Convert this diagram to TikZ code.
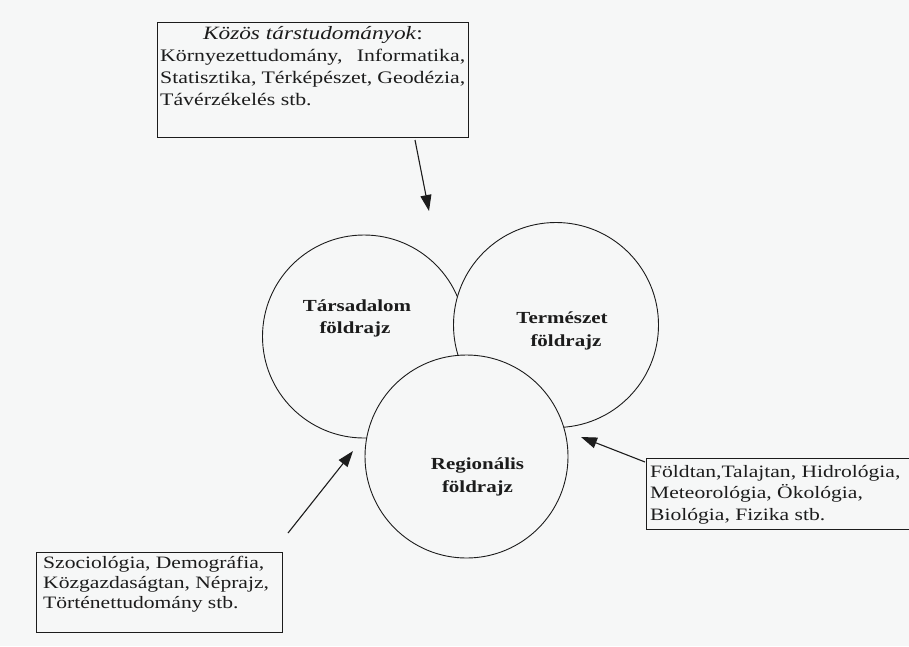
\documentclass[tikz,border=0pt]{standalone}
\usepackage{fontspec}
\setmainfont{Liberation Serif}[FakeStretch=1.24]
\usetikzlibrary{arrows.meta}
\definecolor{paper}{RGB}{246,247,247}
\definecolor{ink}{RGB}{28,28,28}
\begin{document}
\begin{tikzpicture}[x=1pt,y=-1pt,
  ring/.style={circle, draw=ink, line width=0.9pt, fill=paper, minimum size=203pt, inner sep=0pt},
  frame/.style={draw=ink, line width=1pt, fill=paper, inner sep=0pt, anchor=north west},
  ln/.style={anchor=base west, inner sep=0pt, text=ink, font=\fontsize{17.4}{20}\selectfont},
  lnt/.style={anchor=base west, inner sep=0pt, text=ink, font=\fontsize{17.6}{21}\selectfont},
  lnc/.style={anchor=base, inner sep=0pt, text=ink, font=\fontsize{16.9}{20}\selectfont\bfseries},
  arr/.style={-{Triangle[length=16pt,width=11pt]}, line width=1.1pt, draw=ink}]
\useasboundingbox[fill=paper] (0,0) rectangle (909,646);

% boxes
\node[frame, minimum width=311pt, minimum height=115pt] (topbox) at (157,22) {};
\node[frame, minimum width=275pt, minimum height=71pt] (rbox) at (646,458) {};
\node[frame, minimum width=246pt, minimum height=80.5pt] (lbox) at (36,551.5) {};

% top box text
\node[lnt, anchor=base, font=\fontsize{18.8}{21}\selectfont] (t0) at (313,39) {\textit{Közös társtudományok}:};
\node[lnt] (t1) at (160,61.7) {\hbox to 305pt{Környezettudomány,\hfill Informatika,}};
\node[lnt] (t2) at (160,83.3) {\hbox to 305pt{Statisztika,\hfill Térképészet,\hfill Geodézia,}};
\node[lnt] (t3) at (160,105) {Távérzékelés stb.};

% right box text
\node[ln] (r1) at (650,477) {Földtan,Talajtan, Hidrológia,};
\node[ln] (r2) at (650,498.5) {Meteorológia, Ökológia,};
\node[ln] (r3) at (650,520.3) {Biológia, Fizika stb.};

% left box text
\node[ln] (l1) at (43,568) {Szociológia, Demográfia,};
\node[ln] (l2) at (43,588) {Közgazdaságtan, Néprajz,};
\node[ln] (l3) at (43,608) {Történettudomány stb.};

% circles
\node[ring] (tars) at (364,336.5) {};
\node[ring, minimum size=205pt] (term) at (556,325) {};
\node[ring] (reg) at (466.5,456.5) {};

\node[lnc] (c1a) at (357,311.7) {Társadalom};
\node[lnc] (c1b) at (355,333.2) {földrajz};
\node[lnc] (c2a) at (562,323) {Természet};
\node[lnc] (c2b) at (566,346) {földrajz};
\node[lnc] (c3a) at (477.5,469) {Regionális};
\node[lnc] (c3b) at (477.5,492) {földrajz};

% arrows
\coordinate (topstart) at (415,140);
\coordinate (toptip) at (429,211);
\coordinate (ltip) at (353,451);
\coordinate (lstart) at (288,533);
\coordinate (rtip) at (581,437);
\draw[arr] (topstart) -- (toptip);
\draw[arr] (lstart) -- (ltip);
\draw[arr] ([shift={(-1,4)}]rbox.north west) -- (rtip);
\end{tikzpicture}
\end{document}
